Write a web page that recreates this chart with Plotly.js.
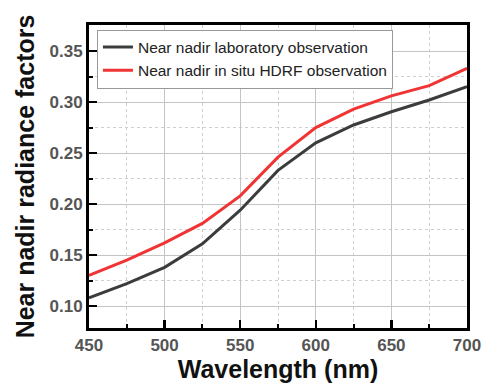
<!DOCTYPE html>
<html>
<head>
<meta charset="utf-8">
<script src="https://cdn.plot.ly/plotly-3.0.1.min.js"></script>
<style>html,body{margin:0;padding:0;background:#fff;}#chart{width:485px;height:388px;}</style>
</head>
<body>
<div id="chart"></div>
<script>
const wavelength = [450, 475, 500, 525, 550, 575, 600, 625, 650, 675, 700];
const labObs = [0.108, 0.122, 0.138, 0.161, 0.194, 0.233, 0.260, 0.2775, 0.2905, 0.302, 0.315];
const insituObs = [0.130, 0.145, 0.162, 0.181, 0.208, 0.246, 0.275, 0.293, 0.306, 0.316, 0.333];
const seriesNames = ["Near nadir laboratory observation", "Near nadir in situ HDRF observation"];
const xTicks = [450, 500, 550, 600, 650, 700];
const yTicks = [0.10, 0.15, 0.20, 0.25, 0.30, 0.35];

const traces = [
  {x: wavelength, y: labObs, name: seriesNames[0], mode: "lines", line: {color: "#3c3c3c", width: 3}},
  {x: wavelength, y: insituObs, name: seriesNames[1], mode: "lines", line: {color: "#f03434", width: 3}}
];

const font = "Liberation Sans, Arial, sans-serif";
const axisCommon = {
  showline: true, linecolor: "#000", linewidth: 3, mirror: true,
  ticks: "inside", ticklen: 8, tickwidth: 2.5, tickcolor: "#000",
  tickfont: {family: font, size: 17, color: "#555", weight: "bold"},
  showgrid: true, gridcolor: "#c4c4c4", gridwidth: 1,
  zeroline: false,
  minor: {ticks: "inside", ticklen: 4, tickwidth: 2, tickcolor: "#000", showgrid: true, gridcolor: "#cfcfcf", griddash: "dot", gridwidth: 1}
};

const layout = {
  width: 485, height: 388,
  margin: {l: 89, r: 18, t: 25, b: 60},
  paper_bgcolor: "#fff", plot_bgcolor: "#fff",
  showlegend: true,
  legend: {x: 0.021, y: 0.985, xanchor: "left", yanchor: "top", bgcolor: "#fff", bordercolor: "#999", borderwidth: 1,
           font: {family: font, size: 15.5, color: "#222"}, tracegroupgap: 0},
  xaxis: Object.assign({}, axisCommon, {
    range: [450, 700], tickvals: xTicks, ticktext: xTicks.map(String),
    minor: Object.assign({}, axisCommon.minor, {dtick: 25, tick0: 450}),
    title: {text: "Wavelength (nm)", font: {family: font, size: 25, color: "#111", weight: "bold"}, standoff: 6}
  }),
  yaxis: Object.assign({}, axisCommon, {
    range: [0.0785, 0.3755], tickvals: yTicks, ticktext: yTicks.map(v => v.toFixed(2)),
    minor: Object.assign({}, axisCommon.minor, {dtick: 0.025, tick0: 0.1}),
    title: {text: "Near nadir radiance factors", font: {family: font, size: 25, color: "#111", weight: "bold"}, standoff: 8}
  })
};

Plotly.newPlot("chart", traces, layout, {displayModeBar: false, staticPlot: true});
</script>
</body>
</html>
